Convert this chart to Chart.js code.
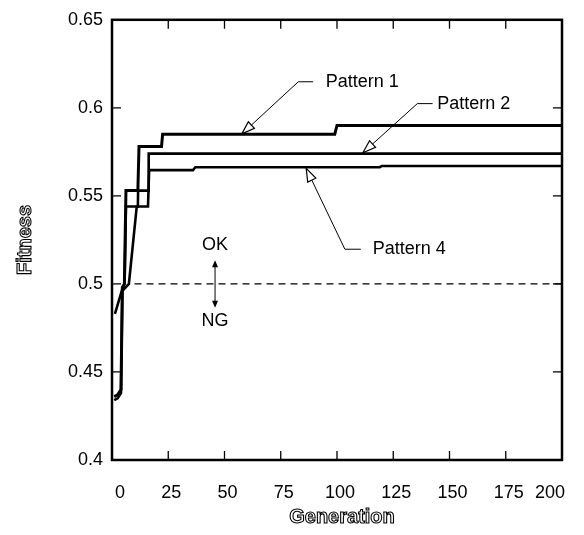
<!DOCTYPE html>
<html><head><meta charset="utf-8">
<script src="https://cdn.jsdelivr.net/npm/chart.js@4/dist/chart.umd.min.js"></script>
<style>html,body{margin:0;padding:0;background:#fff;}</style>
</head><body>
<canvas id="c" width="584" height="535"></canvas>
<script>
// ---- data ----
const xTicks = [0, 25, 50, 75, 100, 125, 150, 175, 200];
const yTicks = [0.4, 0.45, 0.5, 0.55, 0.6, 0.65];
const seriesNames = ['Pattern 1', 'Pattern 2', 'Pattern 4'];

const gen1 = [1, 2.5, 4, 4.6, 5.5, 6.2, 11.5, 12, 22, 22.5, 99, 100, 200];
const fit1 = [0.436, 0.437, 0.440, 0.498, 0.500, 0.553, 0.553, 0.578, 0.578, 0.585, 0.585, 0.590, 0.590];

const gen2 = [1.3, 4.8, 5.6, 6.2, 11.5, 11.6, 16, 16.3, 200];
const fit2 = [0.483, 0.498, 0.500, 0.544, 0.544, 0.553, 0.553, 0.574, 0.574];

const gen4 = [1, 2.5, 4, 4.6, 7.5, 11, 16, 16.5, 36, 37, 119, 120, 200];
const fit4 = [0.434, 0.435, 0.438, 0.496, 0.500, 0.544, 0.544, 0.5646, 0.5646, 0.5663, 0.5663, 0.5670, 0.5670];

const thresholdGen = [10, 200];
const thresholdFit = [0.5, 0.5];

const okLabel = 'OK', ngLabel = 'NG';
const xTitle = 'Generation', yTitle = 'Fitness';

// annotation anchors (data coordinates)
const callouts = [
  {text: seriesNames[0], tip: [57.7, 0.5852], elbow: [82.8, 0.6148], end: [89.4, 0.6148], label: [95, 0.6148]},
  {text: seriesNames[1], tip: [111.5, 0.5745], elbow: [135.7, 0.6024], end: [142.5, 0.6024], label: [144.5, 0.6024]},
  {text: seriesNames[2], tip: [86.3, 0.5656], elbow: [103.5, 0.5197], end: [110.6, 0.5197], label: [115.9, 0.5197]}
];
const okNg = {gen: 45.8, ok: 0.5219, ng: 0.4787, top: 0.5135, bottom: 0.4865};

function pts(xs, ys) { return xs.map((x, i) => ({x: x, y: ys[i]})); }

const FONT = '"Liberation Sans", Arial, Helvetica, sans-serif';

const decor = {
  id: 'decor',
  afterDatasetsDraw(chart) {
    const {ctx, chartArea: a, scales: {x, y}} = chart;
    ctx.save();
    // frame
    ctx.strokeStyle = '#000';
    ctx.lineWidth = 2.5;
    ctx.strokeRect(a.left, a.top, a.right - a.left, a.bottom - a.top);
    // inner ticks
    ctx.lineWidth = 1.3;
    const TL = 9;
    ctx.beginPath();
    xTicks.slice(1, -1).forEach(v => {
      const px = x.getPixelForValue(v);
      ctx.moveTo(px, a.bottom); ctx.lineTo(px, a.bottom - TL);
      ctx.moveTo(px, a.top); ctx.lineTo(px, a.top + TL);
    });
    yTicks.slice(1, -1).forEach(v => {
      const py = y.getPixelForValue(v);
      ctx.moveTo(a.left, py); ctx.lineTo(a.left + TL, py);
      ctx.moveTo(a.right, py); ctx.lineTo(a.right - TL, py);
    });
    ctx.stroke();

    // callouts
    ctx.font = '18px ' + FONT;
    ctx.fillStyle = '#000';
    ctx.textAlign = 'left';
    ctx.textBaseline = 'middle';
    callouts.forEach(c => {
      const tx = x.getPixelForValue(c.tip[0]), ty = y.getPixelForValue(c.tip[1]);
      const ex = x.getPixelForValue(c.elbow[0]), ey = y.getPixelForValue(c.elbow[1]);
      const hx = x.getPixelForValue(c.end[0]), hy = y.getPixelForValue(c.end[1]);
      const lx = x.getPixelForValue(c.label[0]), ly = y.getPixelForValue(c.label[1]);
      const ang = Math.atan2(ty - ey, tx - ex);
      const L = 13, W = 4.5;
      const bx = tx - L * Math.cos(ang), by = ty - L * Math.sin(ang);
      ctx.lineWidth = 1;
      ctx.beginPath();
      ctx.moveTo(hx, hy); ctx.lineTo(ex, ey); ctx.lineTo(bx, by);
      ctx.stroke();
      ctx.beginPath();
      ctx.moveTo(tx, ty);
      ctx.lineTo(bx - W * Math.sin(ang), by + W * Math.cos(ang));
      ctx.lineTo(bx + W * Math.sin(ang), by - W * Math.cos(ang));
      ctx.closePath();
      ctx.fillStyle = '#fff'; ctx.fill();
      ctx.lineWidth = 1.2; ctx.stroke();
      ctx.fillStyle = '#000';
      ctx.fillText(c.text, lx, ly);
    });

    // OK / NG
    const gx = x.getPixelForValue(okNg.gen);
    ctx.textAlign = 'center';
    ctx.fillText(okLabel, gx, y.getPixelForValue(okNg.ok));
    ctx.fillText(ngLabel, gx, y.getPixelForValue(okNg.ng));
    const at = y.getPixelForValue(okNg.top), ab = y.getPixelForValue(okNg.bottom);
    ctx.lineWidth = 1;
    ctx.beginPath(); ctx.moveTo(gx, at + 3); ctx.lineTo(gx, ab - 3); ctx.stroke();
    ctx.beginPath();
    ctx.moveTo(gx, at); ctx.lineTo(gx - 3, at + 7); ctx.lineTo(gx + 3, at + 7); ctx.closePath();
    ctx.moveTo(gx, ab); ctx.lineTo(gx - 3, ab - 7); ctx.lineTo(gx + 3, ab - 7); ctx.closePath();
    ctx.fill();

    // axis titles (outlined)
    ctx.font = 'bold 20px ' + FONT;
    ctx.lineWidth = 1.1;
    ctx.strokeStyle = '#000';
    ctx.fillStyle = '#fff';
    ctx.textAlign = 'center';
    ctx.textBaseline = 'middle';
    const cx = (a.left + a.right) / 2 + 5;
    ctx.fillText(xTitle, cx, 517);
    ctx.strokeText(xTitle, cx, 517);
    ctx.translate(25, (a.top + a.bottom) / 2);
    ctx.rotate(-Math.PI / 2);
    ctx.fillText(yTitle, 0, 0);
    ctx.strokeText(yTitle, 0, 0);
    ctx.restore();
  }
};

const line = (xs, ys, w) => ({
  data: pts(xs, ys), showLine: true, borderColor: '#000', borderWidth: w,
  pointRadius: 0, tension: 0, fill: false, borderJoinStyle: 'miter'
});

new Chart(document.getElementById('c'), {
  type: 'scatter',
  data: {
    datasets: [
      Object.assign(line(gen1, fit1, 3), {label: seriesNames[0]}),
      Object.assign(line(gen2, fit2, 2.6), {label: seriesNames[1]}),
      Object.assign(line(gen4, fit4, 2.6), {label: seriesNames[2]}),
      Object.assign(line(thresholdGen, thresholdFit, 1.2), {label: 'threshold', borderDash: [7, 5]})
    ]
  },
  options: {
    responsive: false,
    animation: false,
    layout: {padding: {top: 15, right: 18, left: 0, bottom: 0}},
    plugins: {legend: {display: false}, tooltip: {enabled: false}},
    scales: {
      x: {
        type: 'linear', min: 0, max: 200,
        afterBuildTicks: s => { s.ticks = xTicks.map(v => ({value: v})); },
        afterFit: s => { s.height = 75; },
        grid: {display: false, drawTicks: false},
        border: {display: false},
        ticks: {color: '#000', font: {size: 18, family: FONT}, padding: 22, maxRotation: 0, autoSkip: false, align: 'inner', labelOffset: 3}
      },
      y: {
        type: 'linear', min: 0.4, max: 0.65,
        afterBuildTicks: s => { s.ticks = yTicks.map(v => ({value: v})); },
        afterFit: s => { s.width = 112; },
        grid: {display: false, drawTicks: false},
        border: {display: false},
        ticks: {color: '#000', font: {size: 18, family: FONT}, padding: 9,
          callback: v => String(Math.round(v * 100) / 100)}
      }
    }
  },
  plugins: [decor]
});
</script>
</body></html>
